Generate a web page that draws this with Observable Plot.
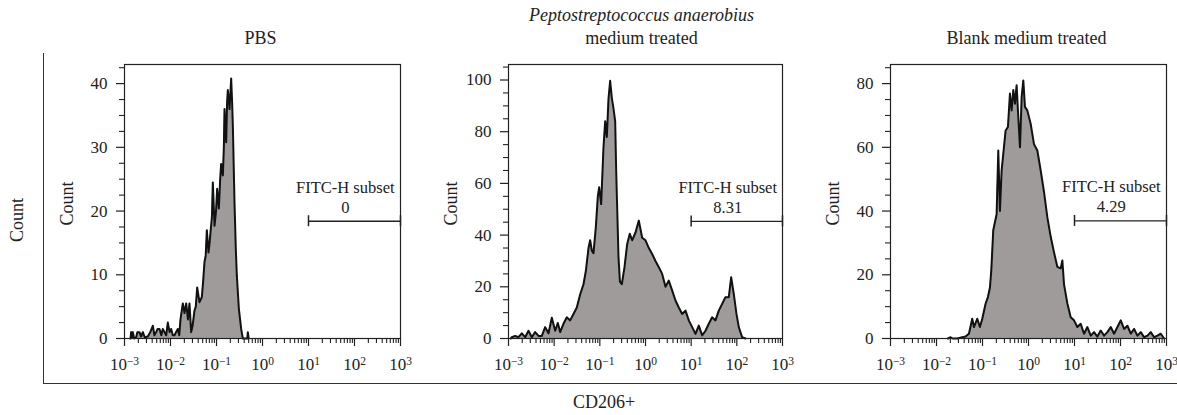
<!DOCTYPE html>
<html>
<head>
<meta charset="utf-8">
<script src="https://cdn.jsdelivr.net/npm/d3@7"></script>
<script src="https://cdn.jsdelivr.net/npm/@observablehq/plot@0.6"></script>
<style>
  body { margin: 0; background: #fff; }
  #root { position: relative; width: 1177px; height: 415px; overflow: hidden;
          font-family: "Liberation Serif", "DejaVu Serif", serif; color: #222; }
  .panel { position: absolute; top: 0; }
  .panel svg { max-width: none; display: block; }
  #outer-left { position: absolute; left: 43px; top: 53px; height: 330px; border-left: 1.4px solid #333; }
  #outer-bottom { position: absolute; left: 43px; top: 383px; width: 1134px; border-top: 1.4px solid #333; }
  #outer-y { position: absolute; left: 17px; top: 220px; transform: translate(-50%, -50%) rotate(-90deg);
             font-size: 18px; white-space: nowrap; }
  #outer-x { position: absolute; left: 604px; top: 402px; transform: translate(-50%, -50%);
             font-size: 18px; white-space: nowrap; }
</style>
</head>
<body>
<div id="root">
  <div id="outer-left"></div>
  <div id="outer-bottom"></div>
  <div id="outer-y">Count</div>
  <div id="outer-x">CD206+</div>
</div>
<script>
// ---------- data: [log10(CD206+ FITC-H intensity), count] ----------
const pbsHistogram = [
  [-2.87,0],[-2.855,1],[-2.84,0.2],[-2.819,1],[-2.79,0],[-2.746,0.2],[-2.72,1],[-2.674,1],[-2.64,0.3],
  [-2.601,1],[-2.56,0.2],[-2.493,0.3],[-2.44,1],[-2.384,2],[-2.35,0.5],[-2.312,1],[-2.28,1.5],[-2.239,1.5],
  [-2.2,0.5],[-2.167,1.5],[-2.13,1],[-2.094,0.5],[-2.058,2.5],[-2.02,1],[-1.986,1.5],[-1.95,0.5],[-1.913,0.5],
  [-1.88,1],[-1.841,1.5],[-1.81,0.5],[-1.783,3],[-1.732,5.5],[-1.696,4],[-1.659,5.5],[-1.62,3],[-1.587,5.5],
  [-1.551,1],[-1.52,2],[-1.478,4.4],[-1.45,5],[-1.42,8],[-1.37,5.7],[-1.319,6.5],[-1.29,9],[-1.261,12],
  [-1.235,13],[-1.21,17],[-1.174,13.5],[-1.15,15],[-1.13,16.7],[-1.1,19],[-1.08,24.5],[-1.043,17.7],[-1.01,20],
  [-0.986,23.5],[-0.949,20.4],[-0.92,25],[-0.899,27.4],[-0.862,25.6],[-0.84,30],[-0.826,36],[-0.79,30.8],
  [-0.77,37],[-0.754,39],[-0.717,36],[-0.681,40.8],[-0.66,37],[-0.645,33.5],[-0.609,21.4],[-0.58,14],
  [-0.558,9.9],[-0.514,4.7],[-0.464,1.5],[-0.428,0],[-0.33,0],[-0.319,1],[-0.3,0]
];
const anaerobiusHistogram = [
  [-2.95,0],[-2.927,0.5],[-2.854,1],[-2.781,0.5],[-2.708,2],[-2.635,0.5],[-2.562,3],[-2.489,0.5],[-2.416,2.5],
  [-2.343,1],[-2.27,1],[-2.197,4.4],[-2.124,2],[-2.051,8],[-1.978,3],[-1.92,6],[-1.869,2.5],[-1.796,5.7],
  [-1.723,8.2],[-1.65,7],[-1.577,9.5],[-1.504,12],[-1.431,17],[-1.358,21],[-1.307,26],[-1.248,35],[-1.212,38],
  [-1.175,34],[-1.139,33],[-1.088,43],[-1.044,55],[-1.015,58.5],[-0.971,52],[-0.92,74],[-0.883,84],[-0.847,78],
  [-0.81,92.7],[-0.774,99.7],[-0.737,93],[-0.701,89],[-0.664,84],[-0.642,65],[-0.591,31.4],[-0.56,22],
  [-0.518,21],[-0.46,27.6],[-0.401,36.6],[-0.344,40.5],[-0.292,38],[-0.219,41],[-0.146,45.6],[-0.073,39],
  [0,38],[0.073,35],[0.146,32.7],[0.219,30],[0.292,27.6],[0.365,25],[0.438,20],[0.51,22.4],[0.583,18.6],
  [0.657,14.7],[0.729,12],[0.803,9.5],[0.876,10.8],[0.948,7],[1.022,4.4],[1.095,1.8],[1.167,5],[1.241,1.2],
  [1.314,3],[1.386,5.7],[1.46,8.2],[1.532,7],[1.605,10.8],[1.679,13.4],[1.751,16],[1.824,16],[1.876,23.7],
  [1.933,17.3],[1.992,9.5],[2.043,4.4],[2.117,0.5],[2.19,0]
];
const blankHistogram = [
  [-1.75,0],[-1.694,0.4],[-1.65,0],[-1.549,0],[-1.44,0.4],[-1.368,0.6],[-1.295,1.5],[-1.223,6.2],[-1.186,3.6],
  [-1.114,6.2],[-1.056,3.6],[-1.005,6.2],[-0.933,10.9],[-0.882,13],[-0.838,16],[-0.809,21.4],[-0.766,34],
  [-0.737,36],[-0.693,39],[-0.657,59],[-0.621,40],[-0.584,52.8],[-0.548,58],[-0.497,65.3],[-0.447,66.4],
  [-0.403,76.9],[-0.367,71.6],[-0.33,78],[-0.294,73.7],[-0.258,79.5],[-0.222,69.5],[-0.185,60],[-0.149,75.8],
  [-0.113,81],[-0.077,72.7],[-0.026,71.6],[0.047,67.4],[0.119,61],[0.192,59],[0.264,52.8],[0.337,46],[0.41,38],
  [0.482,32],[0.555,27],[0.627,22.5],[0.7,22],[0.736,24.5],[0.772,17],[0.845,11],[0.917,6.7],[0.99,5.7],
  [1.062,3.6],[1.135,4.6],[1.207,1.5],[1.28,3.6],[1.353,0.9],[1.425,2],[1.498,0.6],[1.57,2.5],[1.643,0.9],
  [1.715,2],[1.788,3.6],[1.86,1.5],[1.933,3.6],[2.005,5.7],[2.078,3],[2.151,4],[2.223,1.5],[2.296,3],
  [2.368,0.9],[2.441,2],[2.513,0.4],[2.586,0.9],[2.658,2],[2.731,0.4],[2.804,0.9],[2.876,1.5],[2.948,0]
];

const panelTitles = [["PBS"], ["Peptostreptococcus anaerobius", "medium treated"], ["Blank medium treated"]];
const gateLabel = "FITC-H subset";
const gatePercents = ["0", "8.31", "4.29"];
const gateCounts = [18.4, 45.3, 36.9];       // height of the gate bar on each panel's Count axis
const gateRange = [10, 1000];
const yMaxima = [43, 106, 86];
const yMajorTicks = [[0, 10, 20, 30, 40], [0, 20, 40, 60, 80, 100], [0, 20, 40, 60, 80]];
const yMinorSteps = [2.5, 5, 5];
const xDecades = [-3, -2, -1, 0, 1, 2, 3];
const yLabel = "Count";

// ---------- layout ----------
const layouts = [
  {left: 44, width: 370, marginLeft: 80, marginRight: 14},
  {left: 420, width: 375, marginLeft: 88, marginRight: 13},
  {left: 800, width: 377, marginLeft: 90, marginRight: 11}
];
const histograms = [pbsHistogram, anaerobiusHistogram, blankHistogram];
const FONT = '"Liberation Serif", "DejaVu Serif", serif';
const SUP = {"-": "\u207B", "0": "\u2070", "1": "\u00B9", "2": "\u00B2", "3": "\u00B3"};
const UNSUP = {"\u207B": "\u2212", "\u2070": "0", "\u00B9": "1", "\u00B2": "2", "\u00B3": "3"};
const fmtPow = v => "10" + String(Math.round(Math.log10(v))).split("").map(c => SUP[c]).join("");

const xMajor = xDecades.map(e => 10 ** e);
const xMinor = [];
for (const e of xDecades.slice(0, -1)) for (let k = 2; k <= 9; k++) xMinor.push(k * 10 ** e);

const root = document.getElementById("root");
const plotH = 415, mTop = 64, mBottom = 77;

histograms.forEach((hist, i) => {
  const L = layouts[i];
  const data = hist.map(([e, c]) => ({v: 10 ** e, count: c}));
  const yMax = yMaxima[i];
  const yMinor = d3.range(0, yMax + 1e-9, yMinorSteps[i]).filter(v => !yMajorTicks[i].includes(v));
  const pxPerUnit = (plotH - mTop - mBottom) / yMax;
  const capHalf = 5.5 / pxPerUnit;
  const g = gateCounts[i];
  const labelX = 10 ** 1.8;
  const titles = panelTitles[i];

  const marks = [
    Plot.areaY(data, {x: "v", y: "count", fill: "#9f9b9b"}),
    Plot.lineY(data, {x: "v", y: "count", stroke: "#111", strokeWidth: 2, strokeLinejoin: "round"}),
    Plot.frame({stroke: "#222", strokeWidth: 1.2}),
    Plot.axisX(xMajor, {tickSize: 8, tickPadding: 11, tickFormat: fmtPow, label: null, strokeWidth: 1.2, fontSize: 17}),
    Plot.axisX(xMinor, {tickSize: 5, fill: "none", label: null, strokeWidth: 1.1}),
    Plot.axisY(yMajorTicks[i], {tickSize: 8, tickPadding: 9, label: null, strokeWidth: 1.2, fontSize: 17}),
    Plot.axisY(yMinor, {tickSize: 5, fill: "none", label: null, strokeWidth: 1.1}),
    Plot.ruleY([g], {x1: gateRange[0], x2: gateRange[1], stroke: "#222", strokeWidth: 1.3}),
    Plot.ruleX(gateRange, {x: d => d, y1: g - capHalf, y2: g + capHalf, stroke: "#222", strokeWidth: 1.5}),
    Plot.text([gateLabel], {x: labelX, y: g, dy: -34, text: d => d, fontSize: 16.5, fill: "#222"}),
    Plot.text([gatePercents[i]], {x: labelX, y: g, dy: -14, text: d => d, fontSize: 16.5, fill: "#222"}),
    Plot.text([yLabel], {frameAnchor: "left", dx: -57, dy: 2, rotate: -90, textAnchor: "middle", lineAnchor: "middle",
                         text: d => d, fontSize: 18, fill: "#222"})
  ];
  if (titles.length === 1) {
    marks.push(Plot.text(titles, {frameAnchor: "top", dy: -26, dx: -2, lineAnchor: "middle", text: d => d, fontSize: 18, fill: "#222"}));
  } else {
    marks.push(Plot.text([titles[0]], {frameAnchor: "top", dy: -49, dx: -4, lineAnchor: "middle", text: d => d, fontSize: 18, fontStyle: "italic", fill: "#222"}));
    marks.push(Plot.text([titles[1]], {frameAnchor: "top", dy: -26, dx: -4, lineAnchor: "middle", text: d => d, fontSize: 18, fill: "#222"}));
  }

  const chart = Plot.plot({
    width: L.width, height: plotH,
    marginTop: mTop, marginBottom: mBottom, marginLeft: L.marginLeft, marginRight: L.marginRight,
    style: {fontFamily: FONT, fontSize: "17px", background: "transparent", color: "#222", overflow: "visible"},
    x: {type: "log", domain: [1e-3, 1e3]},
    y: {domain: [0, yMax]},
    marks
  });

  // render the decade exponents as real superscripts
  chart.querySelectorAll('g[aria-label="x-axis tick label"] text').forEach(t => {
    const s = t.textContent;
    if (!s.startsWith("10")) return;
    const exp = s.slice(2).split("").map(c => UNSUP[c] ?? c).join("");
    t.textContent = "10";
    const sup = document.createElementNS("http://www.w3.org/2000/svg", "tspan");
    sup.setAttribute("dy", "-0.42em");
    sup.setAttribute("font-size", "11.5");
    sup.textContent = exp;
    t.appendChild(sup);
  });

  const div = document.createElement("div");
  div.className = "panel";
  div.style.left = L.left + "px";
  div.appendChild(chart);
  root.appendChild(div);
});
</script>
</body>
</html>
